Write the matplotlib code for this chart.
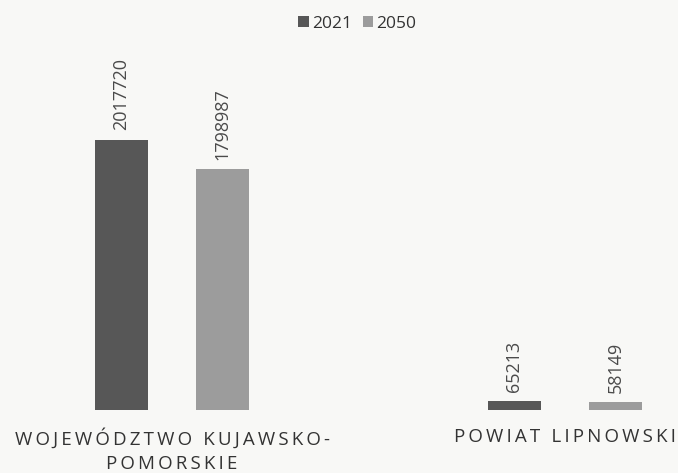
import numpy as np
import matplotlib.pyplot as plt

plt.rcParams['font.family'] = ['Open Sans', 'DejaVu Sans']

categories = ['WOJEWÓDZTWO KUJAWSKO-\nPOMORSKIE', 'POWIAT LIPNOWSKI']
years = ['2021', '2050']
values_2021 = [2017720, 65213]
values_2050 = [1798987, 58149]
colors = ['#575757', '#9c9c9c']


def spaced(s):
    # rozstrzelony tekst (thin space miedzy literami)
    return '\n'.join('\u2009'.join(line) for line in s.split('\n'))


fig = plt.figure(figsize=(6.78, 4.73), dpi=100)
fig.patch.set_facecolor('#f8f8f6')
ax = fig.add_axes([0, 0.133, 1, 0.867])
ax.set_facecolor('#f8f8f6')

x = np.arange(len(categories))
w = 0.135
off = 0.1285
b1 = ax.bar(x - off, values_2021, w, color=colors[0], label=years[0])
b2 = ax.bar(x + off, values_2050, w, color=colors[1], label=years[1])

for bars in (b1, b2):
    for bar in bars:
        h = bar.get_height()
        ax.annotate(str(int(h)), (bar.get_x() + bar.get_width() / 2, h),
                    xytext=(0, 7), textcoords='offset points', rotation=90,
                    ha='center', va='bottom', fontsize=13, color='#4a4a4a')

ax.set_xlim(-172 / 393, 506 / 393)
ax.set_ylim(0, 2017720 * 410 / 270)
ax.set_xticks(x)
labels = ax.set_xticklabels([spaced(c) for c in categories], fontsize=13.5, color='#333333', linespacing=1.45)
labels[1].set_x(x[1] - 0.02)
ax.tick_params(axis='x', length=0, pad=13)
ax.set_yticks([])
for s in ax.spines.values():
    s.set_visible(False)

ax.legend(loc='upper center', bbox_to_anchor=(0.527, 1.0), ncol=2, frameon=False,
          fontsize=12.5, handlelength=0.6, handleheight=0.6, handletextpad=0.2,
          columnspacing=0.6, labelcolor='#333333')

plt.savefig('out.png', dpi=100, facecolor=fig.get_facecolor())
